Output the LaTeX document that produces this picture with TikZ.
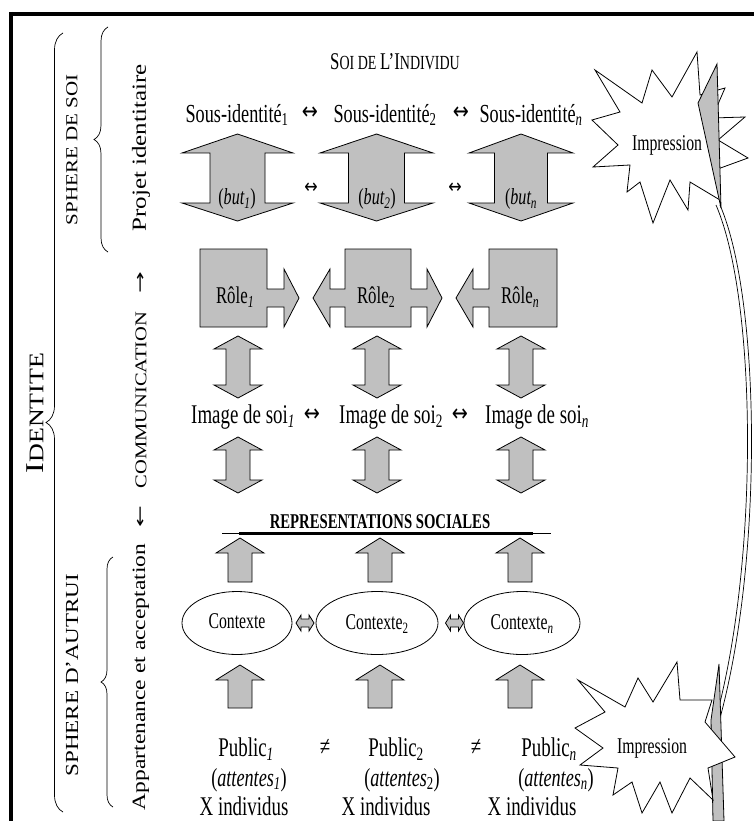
\documentclass[tikz,border=0pt]{standalone}
\usepackage{fontspec}
\setmainfont{Liberation Serif}
\newfontfamily\symfont{DejaVu Sans}
\usetikzlibrary{decorations.pathreplacing}
\definecolor{arrgray}{RGB}{192,192,192}
\newcommand{\fs}[1]{\fontsize{#1}{#1}\selectfont}
\newcommand{\sq}[1]{\scalebox{0.7}[1]{#1}}
\newcommand{\sqv}[1]{\scalebox{0.8}[1]{\rotatebox{90}{#1}}}
\newcommand{\lra}{{\symfont ↔}}
\newcommand{\vdbl}[7]{\draw[arrowbox] (#1,#4) -- ({#1+#2},#5) -- ({#1+#3},#5) -- ({#1+#3},#6) -- ({#1+#2},#6) -- (#1,#7) -- ({#1-#2},#6) -- ({#1-#3},#6) -- ({#1-#3},#5) -- ({#1-#2},#5) -- cycle;}
\newcommand{\uparr}[6]{\draw[arrowbox] (#1,#4) -- ({#1+#2},#5) -- ({#1+#3},#5) -- ({#1+#3},#6) -- ({#1-#3},#6) -- ({#1-#3},#5) -- ({#1-#2},#5) -- cycle;}
\newcommand{\hdbl}[2]{\draw[arrowbox] ({#1-9},#2) -- ({#1-4},{#2-8}) -- ({#1-4},{#2-4}) -- ({#1+4},{#2-4}) -- ({#1+4},{#2-8}) -- ({#1+9},#2) -- ({#1+4},{#2+8}) -- ({#1+4},{#2+4}) -- ({#1-4},{#2+4}) -- ({#1-4},{#2+8}) -- cycle;}
\tikzset{
  arrowbox/.style={draw=black, line width=0.8pt, fill=arrgray, line join=miter},
  lbl/.style={inner sep=0pt, outer sep=0pt},
  starshape/.style={draw=black, line width=0.8pt, fill=white},
  bracestyle/.style={draw=black, line width=0.7pt, decorate},
}
\begin{document}
\begin{tikzpicture}[x=1pt, y=-1pt]
\useasboundingbox (0,0) rectangle (754,821);
\fill[white] (0,0) rectangle (754,821);
% frame
\draw[line width=4pt] (9,14) -- (754,14);
\draw[line width=4pt] (11,12) -- (11,821);

% braces
\draw[bracestyle, decoration={brace, amplitude=17pt}] (63,812) -- (63,33);
\draw[bracestyle, decoration={brace, amplitude=14pt}] (108,252) -- (108,27);
\draw[bracestyle, decoration={brace, amplitude=12pt}] (113,807) -- (113,557);

% vertical labels
\node[lbl] (identite) at (35,413) {\sqv{{\fs{32}I}{\fs{26}DENTITE}}};
\node[lbl, font=\fs{21}] (sphsoi) at (72,150) {\sqv{SPHERE DE SOI}};
\node[lbl, font=\fs{23}] (sphaut) at (72,675) {\sqv{SPHERE D'AUTRUI}};
\node[lbl, font=\fs{25}] (projet) at (141,148) {\sqv{Projet identitaire}};
\node[lbl, font=\fs{20.5}] (comm) at (141,400) {\sqv{COMMUNICATION}};
\node[lbl, font=\fs{26}] (commdn) at (141,517) {\scalebox{0.6}[1]{\rotatebox{90}{\symfont ←}}};
\node[lbl, font=\fs{26}] (commup) at (141,283) {\scalebox{0.6}[1]{\rotatebox{90}{\symfont →}}};
\node[lbl, font=\fs{23.5}] (appart) at (141,677) {\sqv{Appartenance et acceptation}};

% title
\node[lbl] (soi) at (395,62) {\sq{{\fs{24}S}{\fs{20}OI DE }{\fs{24}L'I}{\fs{20}NDIVIDU}}};

% sous-identites
\node[lbl, font=\fs{24}] (sa1) at (310,113) {\scalebox{0.8}[1]{\lra}};
\node[lbl, font=\fs{26}] (si1) at (237,115) {\sq{Sous-identité\textsubscript{1}}};
\node[lbl, font=\fs{26}] (si2) at (385,115) {\sq{Sous-identité\textsubscript{2}}};
\node[lbl, font=\fs{24}] (sa2) at (461,113) {\scalebox{0.8}[1]{\lra}};
\node[lbl, font=\fs{26}] (si3) at (531,115) {\sq{Sous-identité\textsubscript{\textit{n}}}};

% but arrows
\vdbl{237.5}{55.5}{27.5}{134}{153}{203}{221}
\vdbl{376.5}{56.5}{28}{134}{153}{203}{221}
\vdbl{521}{52}{26.5}{134}{153}{203}{221}
\node[lbl, font=\fs{23}] (b1) at (237,199) {\sq{(\textit{but\textsubscript{1}})}};
\node[lbl, font=\fs{23}] (b2) at (377,199) {\sq{(\textit{but\textsubscript{2}})}};
\node[lbl, font=\fs{23}] (b3) at (521,199) {\sq{(\textit{but\textsubscript{n}}}};
\node[lbl, font=\fs{20}] (ba1) at (311,188) {\scalebox{0.8}[1]{\lra}};
\node[lbl, font=\fs{20}] (ba2) at (455,188) {\scalebox{0.8}[1]{\lra}};

% roles
\draw[arrowbox] (200,249) -- (267,249) -- (267,289) -- (284,289) -- (284,269) -- (299,298) -- (284,327) -- (284,307) -- (267,307) -- (267,327) -- (200,327) -- cycle;
\draw[arrowbox] (345,249) -- (411,249) -- (411,289) -- (427,289) -- (427,269) -- (442,298) -- (427,327) -- (427,307) -- (411,307) -- (411,327) -- (345,327) -- (345,307) -- (330,307) -- (330,327) -- (313,298) -- (330,269) -- (330,289) -- (345,289) -- cycle;
\draw[arrowbox] (489,249) -- (557,249) -- (557,327) -- (489,327) -- (489,307) -- (473,307) -- (473,327) -- (456,298) -- (473,269) -- (473,289) -- (489,289) -- cycle;
\node[lbl, font=\fs{24}] (r1) at (235,297) {\sq{Rôle\textsubscript{\textit{1}}}};
\node[lbl, font=\fs{24}] (r2) at (376,297) {\sq{Rôle\textsubscript{2}}};
\node[lbl, font=\fs{24}] (r3) at (520,297) {\sq{Rôle\textsubscript{\textit{n}}}};

% image de soi arrows
\vdbl{238}{24}{12}{336}{349}{385}{398}
\vdbl{377}{24}{12}{336}{349}{385}{398}
\vdbl{521}{24}{12}{336}{349}{385}{398}
\vdbl{238}{24}{12}{437}{450}{480}{493}
\vdbl{377}{24}{12}{437}{450}{480}{493}
\vdbl{521}{24}{12}{437}{450}{480}{493}
\node[lbl, font=\fs{27}] (is1) at (243,417) {\sq{Image de soi\textsubscript{\textit{1}}}};
\node[lbl, font=\fs{24}] (ia1) at (312,415) {\scalebox{0.8}[1]{\lra}};
\node[lbl, font=\fs{27}] (is2) at (391,417) {\sq{Image de soi\textsubscript{2}}};
\node[lbl, font=\fs{24}] (ia2) at (460,415) {\scalebox{0.8}[1]{\lra}};
\node[lbl, font=\fs{27}] (is3) at (537,417) {\sq{Image de soi\textsubscript{\textit{n}}}};

% representations sociales
\node[lbl, font=\fs{21}\bfseries] (rep) at (380,522) {\sq{REPRESENTATIONS SOCIALES}};
\coordinate (repl) at (222,533);
\coordinate (repr) at (551,533);
\draw[line width=0.6pt] (repl) -- (repr);
\draw[line width=3pt] (239,533) -- (533,533);

% up arrows
\uparr{240}{24}{12}{538}{553}{582}
\uparr{380}{24}{12}{538}{553}{582}
\uparr{520}{24}{12}{538}{553}{582}
\uparr{240}{24}{12}{665}{680}{708}
\uparr{380}{24}{12}{665}{680}{708}
\uparr{520}{24}{12}{665}{680}{708}

% contextes
\draw[line width=0.8pt, fill=white] (237,623) ellipse [x radius=55, y radius=31.5];
\draw[line width=0.8pt, fill=white] (377,623) ellipse [x radius=61, y radius=31.5];
\draw[line width=0.8pt, fill=white] (522,623) ellipse [x radius=58, y radius=31.5];
\node[lbl, font=\fs{22.5}] (c1) at (237,621) {\sq{Contexte}};
\node[lbl, font=\fs{22.5}] (c2) at (377,624) {\sq{Contexte\textsubscript{2}}};
\node[lbl, font=\fs{22.5}] (c3) at (522,624) {\sq{Contexte\textsubscript{\textit{n}}}};
\hdbl{305}{623}
\hdbl{454.5}{623}

% publics
\node[lbl, font=\fs{27}] (p1) at (246,749) {\sq{Public\textsubscript{\textit{1}}}};
\node[lbl, font=\fs{27}] (ne1) at (325,747) {\sq{≠}};
\node[lbl, font=\fs{27}] (p2) at (396,749) {\sq{Public\textsubscript{2}}};
\node[lbl, font=\fs{27}] (ne2) at (476,747) {\sq{≠}};
\node[lbl, font=\fs{27}] (p3) at (549,749) {\sq{Public\textsubscript{\textit{n}}}};
\node[lbl, font=\fs{26}] (a1) at (249,780) {\sq{(\textit{attentes\textsubscript{1}})}};
\node[lbl, font=\fs{26}] (a2) at (402,780) {\sq{(\textit{attentes}\textsubscript{2})}};
\node[lbl, font=\fs{26}] (a3) at (556,780) {\sq{(\textit{attentes\textsubscript{n}})}};
\node[lbl, font=\fs{27}] (x1) at (244,806) {\sq{X individus}};
\node[lbl, font=\fs{27}] (x2) at (386,806) {\sq{X individus}};
\node[lbl, font=\fs{27}] (x3) at (532,806) {\sq{X individus}};

% right curves
\coordinate (ctop) at (716,205);
\coordinate (cbot) at (716,718);
\draw[line width=0.7pt] (ctop) .. controls (757,300) and (759,560) .. (cbot);
\draw[line width=0.7pt] ([xshift=4pt]ctop) .. controls (761,300) and (763,560) .. ([xshift=4pt]cbot);

% top impression star
\draw[starshape] (595,70) -- (642,103) -- (652,70) -- (672,97) -- (697,52) -- (700,95) -- (725,88) -- (712,118) -- (745,117) -- (718,140) -- (748,158) -- (715,170) -- (720,200) -- (690,182) -- (688,210) -- (670,180) -- (653,223) -- (640,182) -- (627,192) -- (630,165) -- (593,167) -- (618,145) -- (592,120) -- (620,112) -- cycle;
\draw[arrowbox] (698,103) -- (717,64) -- (721,208) -- cycle;
\node[lbl, font=\fs{22.5}] (imp1) at (667,145) {\sq{Impression}};

% bottom impression star
\draw[arrowbox] (719,664) -- (724,821) -- (713,821) -- (711,720) -- cycle;
\draw[starshape] (578,680) -- (625,707) -- (638,678) -- (653,702) -- (677,662) -- (680,700) -- (712,700) -- (705,722) -- (735,757) -- (708,768) -- (713,800) -- (690,778) -- (672,813) -- (660,782) -- (642,813) -- (632,782) -- (613,795) -- (618,768) -- (580,765) -- (603,748) -- (575,728) -- (605,712) -- cycle;
\node[lbl, font=\fs{22.5}] (imp2) at (652,748) {\sq{Impression}};
\end{tikzpicture}
\end{document}
